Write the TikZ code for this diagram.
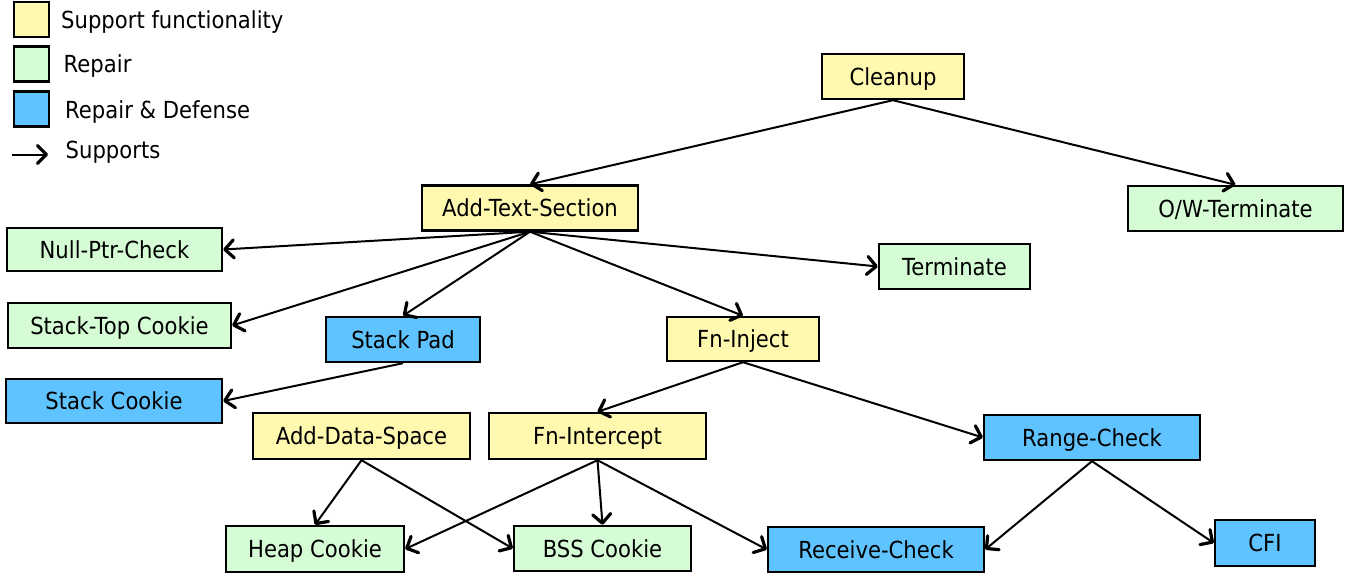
\documentclass[tikz,border=0pt]{standalone}
\usepackage{fontspec}
\setmainfont{DejaVu Sans}[FakeStretch=0.9]
\usetikzlibrary{arrows.meta}
\definecolor{supp}{HTML}{FFF9AF}
\definecolor{rep}{HTML}{D5FCD5}
\definecolor{def}{HTML}{5FC3FF}
\tikzset{
  box/.style={draw=black, line width=2.4pt, minimum height=45pt, inner sep=0pt,
    text height=17pt, text depth=0pt,
    font=\fontsize{23.5}{26}\selectfont},
  sbox/.style={box, fill=supp},
  rbox/.style={box, fill=rep},
  dbox/.style={box, fill=def},
  lbox/.style={draw=black, line width=2.4pt, minimum width=35pt, minimum height=35pt, inner sep=0pt},
  ltext/.style={anchor=base west, inner sep=0pt, font=\fontsize{23.5}{26}\selectfont},
  sup/.style={line width=2pt, -{Straight Barb[length=9pt,width=18pt,line width=3.2pt,round]}},
}
\begin{document}
\begin{tikzpicture}[x=1pt,y=-1pt]
\useasboundingbox (0,0) rectangle (1352,573);
% legend
\node[lbox, fill=supp] (l1) at (31.5,19.5) {};
\node[lbox, fill=rep] (l2) at (31.5,64) {};
\node[lbox, fill=def] (l3) at (31.5,109) {};
\node[ltext] (t1) at (61,28) {Support functionality};
\node[ltext] (t2) at (63.5,72) {Repair};
\node[ltext] (t3) at (65,118) {Repair \& Defense};
\node[ltext] (t4) at (65.5,158) {Supports};
\coordinate (la) at (12,154.5);
\coordinate (lb) at (48,154.5);
\draw[sup] (la) -- (lb);
% nodes
\node[sbox, minimum width=142pt] (cleanup) at (893,76.5) {Cleanup};
\node[sbox, minimum width=216pt] (ats) at (530,208) {Add-Text-Section};
\node[rbox, minimum width=215pt] (ow) at (1235.5,208.5) {O/W-Terminate};
\node[rbox, minimum width=215pt, minimum height=43pt] (null) at (114.5,249.5) {Null-Ptr-Check};
\node[rbox, minimum width=151pt] (term) at (954.5,266.5) {Terminate};
\node[rbox, minimum width=223pt] (stop) at (119.5,325.5) {Stack-Top Cookie};
\node[dbox, minimum width=154pt] (spad) at (403,339.5) {Stack Pad};
\node[sbox, minimum width=152pt, minimum height=44pt] (finj) at (743,339) {Fn-Inject};
\node[dbox, minimum width=216pt, minimum height=44pt] (scook) at (114,401) {Stack Cookie};
\node[sbox, minimum width=217pt, minimum height=46pt] (ads) at (361.5,436) {Add-Data-Space};
\node[sbox, minimum width=217pt, minimum height=46pt] (fint) at (597.5,436) {Fn-Intercept};
\node[dbox, minimum width=216pt] (range) at (1092,437.5) {Range-Check};
\node[rbox, minimum width=178pt, minimum height=46pt] (heap) at (315,549) {Heap Cookie};
\node[rbox, minimum width=177pt] (bss) at (602.5,548.5) {BSS Cookie};
\node[dbox, minimum width=216pt] (recv) at (876,549.5) {Receive-Check};
\node[dbox, minimum width=100pt, minimum height=46pt] (cfi) at (1265,543) {CFI};
% edges
\draw[sup] (cleanup.south) -- (ats.north);
\draw[sup] (cleanup.south) -- (ow.north);
\draw[sup] (ats.south) -- (null.east);
\draw[sup] (ats.south) -- (stop.east);
\draw[sup] (ats.south) -- (spad.north);
\draw[sup] (ats.south) -- (finj.north);
\draw[sup] (ats.south) -- (term.west);
\draw[sup] (spad.south) -- (scook.east);
\draw[sup] (finj.south) -- (fint.north);
\draw[sup] (finj.south) -- (range.west);
\draw[sup] (ads.south) -- (heap.north);
\draw[sup] (ads.south) -- (bss.west);
\draw[sup] (fint.south) -- (heap.east);
\draw[sup] (fint.south) -- (bss.north);
\draw[sup] (fint.south) -- (recv.west);
\draw[sup] (range.south) -- (recv.east);
\draw[sup] (range.south) -- (cfi.west);
\end{tikzpicture}
\end{document}
